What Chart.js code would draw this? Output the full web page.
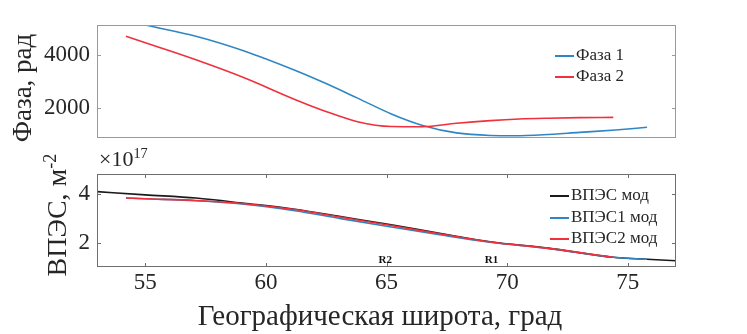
<!DOCTYPE html>
<html>
<head>
<meta charset="utf-8">
<script src="https://cdn.jsdelivr.net/npm/chart.js@4.4.1/dist/chart.umd.min.js"></script>
<style>
  body { margin: 0; background: #fff; }
  #wrap { position: relative; width: 747px; height: 334px; overflow: hidden; font-family: "Liberation Serif", serif; color: #262626; }
  canvas { position: absolute; left: 0; }
  .lbl { position: absolute; white-space: nowrap; line-height: 1; }
  .rot { transform: translate(-50%, -50%) rotate(-90deg); }
  .leg { position: absolute; font-size: 17px; line-height: 1; white-space: nowrap; }
  .leg span.ln { display: inline-block; width: 19px; height: 2px; vertical-align: middle; margin-right: 2px; }
  sup { font-size: 65%; }
</style>
</head>
<body>
<div id="wrap">
  <canvas id="top" width="747" height="150" style="top:0"></canvas>
  <canvas id="bot" width="747" height="184" style="top:150px"></canvas>

  <div class="lbl rot" style="left:22px; top:88px; font-size:27px;">Фаза, рад</div>
  <div class="lbl rot" style="left:56px; top:215px; font-size:28px;">ВПЭС, м<sup>-2</sup></div>
  <div class="lbl" style="left:99px; top:146px; font-size:22px;">×10<sup>17</sup></div>
  <div class="lbl" style="left:380px; top:315px; font-size:29px; transform: translate(-50%, -50%);">Географическая широта, град</div>

  <div class="leg" style="left:555px; top:46px;"><span class="ln" style="background:#2f86c4"></span>Фаза 1</div>
  <div class="leg" style="left:555px; top:67px;"><span class="ln" style="background:#f0303c"></span>Фаза 2</div>

  <div class="leg" style="left:550px; top:186px;"><span class="ln" style="background:#1a1a1a"></span>ВПЭС мод</div>
  <div class="leg" style="left:550px; top:208px;"><span class="ln" style="background:#2f86c4"></span>ВПЭС1 мод</div>
  <div class="leg" style="left:550px; top:229px;"><span class="ln" style="background:#f0303c"></span>ВПЭС2 мод</div>
</div>
<script>
// --- data ---
const phase1Lat = [54.3, 55.0, 57.1, 59.1, 61.2, 62.4, 63.8, 65.2, 66.5, 67.9, 69.3, 70.3, 71.5, 73.0, 74.5, 75.8];
const phase1    = [5260, 5110, 4690, 4140, 3420, 2960, 2380, 1790, 1360, 1080, 985, 975, 1010, 1100, 1190, 1290];
const phase2Lat = [54.2, 55.5, 57.1, 59.1, 61.2, 62.4, 63.8, 65.2, 66.5, 67.9, 69.3, 70.5, 71.7, 73.0, 74.4];
const phase2    = [4690, 4300, 3810, 3140, 2330, 1910, 1500, 1320, 1310, 1440, 1540, 1600, 1630, 1650, 1660];

const tecLat  = [53.0, 55.0, 57.1, 59.1, 61.2, 63.1, 65.2, 67.2, 69.3, 71.7, 74.4, 75.8, 77.0];
const tec     = [4.09, 3.96, 3.83, 3.62, 3.38, 3.08, 2.75, 2.41, 2.07, 1.81, 1.44, 1.36, 1.30];
const tec1Lat = [54.2, 55.0, 57.1, 59.1, 61.2, 63.1, 65.2, 67.2, 69.3, 71.7, 74.4, 75.8];
const tec1    = [3.83, 3.80, 3.72, 3.58, 3.32, 3.00, 2.66, 2.35, 2.05, 1.80, 1.44, 1.36];
const tec2Lat = [54.2, 55.0, 57.1, 59.1, 61.2, 63.1, 65.2, 67.2, 69.3, 71.7, 74.4];
const tec2    = [3.83, 3.80, 3.73, 3.60, 3.37, 3.06, 2.72, 2.39, 2.06, 1.80, 1.44];

const xTicks     = [55, 60, 65, 70, 75];
const phaseTicks = [2000, 4000];
const tecTicks   = [2, 4];
const marks      = [{ text: 'R2', lat: 64.95, v: 1.34 }, { text: 'R1', lat: 69.35, v: 1.34 }];

const BLUE = '#2f86c4', RED = '#f0303c', BLACK = '#1a1a1a';
const pts = (xs, ys) => xs.map((x, i) => ({ x, y: ys[i] }));

function lineSet(label, data, color, order) {
  return { label, data, borderColor: color, borderWidth: 1.6, pointRadius: 0,
           cubicInterpolationMode: 'monotone', fill: false, clip: 0, order };
}

// box + inward ticks + text marks
function framePlugin(boxColor, xt, yt, texts) {
  return {
    id: 'frame',
    afterDraw(chart) {
      const { ctx, chartArea: a, scales } = chart;
      ctx.save();
      ctx.strokeStyle = boxColor;
      ctx.lineWidth = 1;
      ctx.strokeRect(a.left + 0.5, a.top + 0.5, a.right - a.left - 1, a.bottom - a.top - 1);
      const L = 4;
      ctx.beginPath();
      xt.forEach(v => {
        const px = Math.round(scales.x.getPixelForValue(v)) + 0.5;
        ctx.moveTo(px, a.bottom); ctx.lineTo(px, a.bottom - L);
        ctx.moveTo(px, a.top); ctx.lineTo(px, a.top + L);
      });
      yt.forEach(v => {
        const py = Math.round(scales.y.getPixelForValue(v)) + 0.5;
        ctx.moveTo(a.left, py); ctx.lineTo(a.left + L, py);
        ctx.moveTo(a.right, py); ctx.lineTo(a.right - L, py);
      });
      ctx.stroke();
      if (texts) {
        ctx.fillStyle = '#111';
        ctx.font = 'bold 11px "Liberation Serif"';
        ctx.textAlign = 'center';
        ctx.textBaseline = 'middle';
        texts.forEach(t => ctx.fillText(t.text, scales.x.getPixelForValue(t.lat), scales.y.getPixelForValue(t.v)));
      }
      ctx.restore();
    }
  };
}

const tickFont = { family: 'Liberation Serif', size: 23, lineHeight: 1 };

function axes(ymin, ymax, yTicks, showX, xHeight) {
  return {
    x: {
      type: 'linear', min: 53, max: 77, display: showX,
      grid: { display: false, drawTicks: false }, border: { display: false },
      afterBuildTicks: s => { s.ticks = xTicks.map(v => ({ value: v })); },
      ticks: { color: '#262626', font: tickFont, padding: 4, maxRotation: 0,
               callback: v => String(v) },
      afterFit: s => { s.height = xHeight; s.paddingLeft = 0; s.paddingRight = 0; }
    },
    y: {
      min: ymin, max: ymax,
      grid: { display: false, drawTicks: false }, border: { display: false },
      afterBuildTicks: s => { s.ticks = yTicks.map(v => ({ value: v })); },
      ticks: { color: '#262626', font: tickFont, padding: 7, callback: v => String(v) },
      // fixed width, and no extra room for the end labels
      afterFit: s => { s.width = 97; s.paddingTop = 0; s.paddingBottom = 0; }
    }
  };
}

const common = {
  responsive: false, animation: false,
  plugins: { legend: { display: false }, tooltip: { enabled: false } }
};

new Chart(document.getElementById('top'), {
  type: 'line',
  data: { datasets: [
    lineSet('Фаза 1', pts(phase1Lat, phase1), BLUE, 1),
    lineSet('Фаза 2', pts(phase2Lat, phase2), RED, 0)
  ] },
  options: { ...common,
    layout: { padding: { left: 0, right: 71, top: 25, bottom: 12 } },
    scales: axes(890, 5110, phaseTicks, false, 0)
  },
  plugins: [framePlugin('#9a9a9a', [], phaseTicks, null)]
});

new Chart(document.getElementById('bot'), {
  type: 'line',
  data: { datasets: [
    lineSet('ВПЭС мод', pts(tecLat, tec), BLACK, 2),
    lineSet('ВПЭС1 мод', pts(tec1Lat, tec1), BLUE, 1),
    lineSet('ВПЭС2 мод', pts(tec2Lat, tec2), RED, 0)
  ] },
  options: { ...common,
    layout: { padding: { left: 0, right: 71, top: 24, bottom: 0 } },
    scales: axes(1.05, 4.8, tecTicks, true, 67)
  },
  plugins: [framePlugin('#6e6e6e', xTicks, tecTicks, marks)]
});
</script>
</body>
</html>
